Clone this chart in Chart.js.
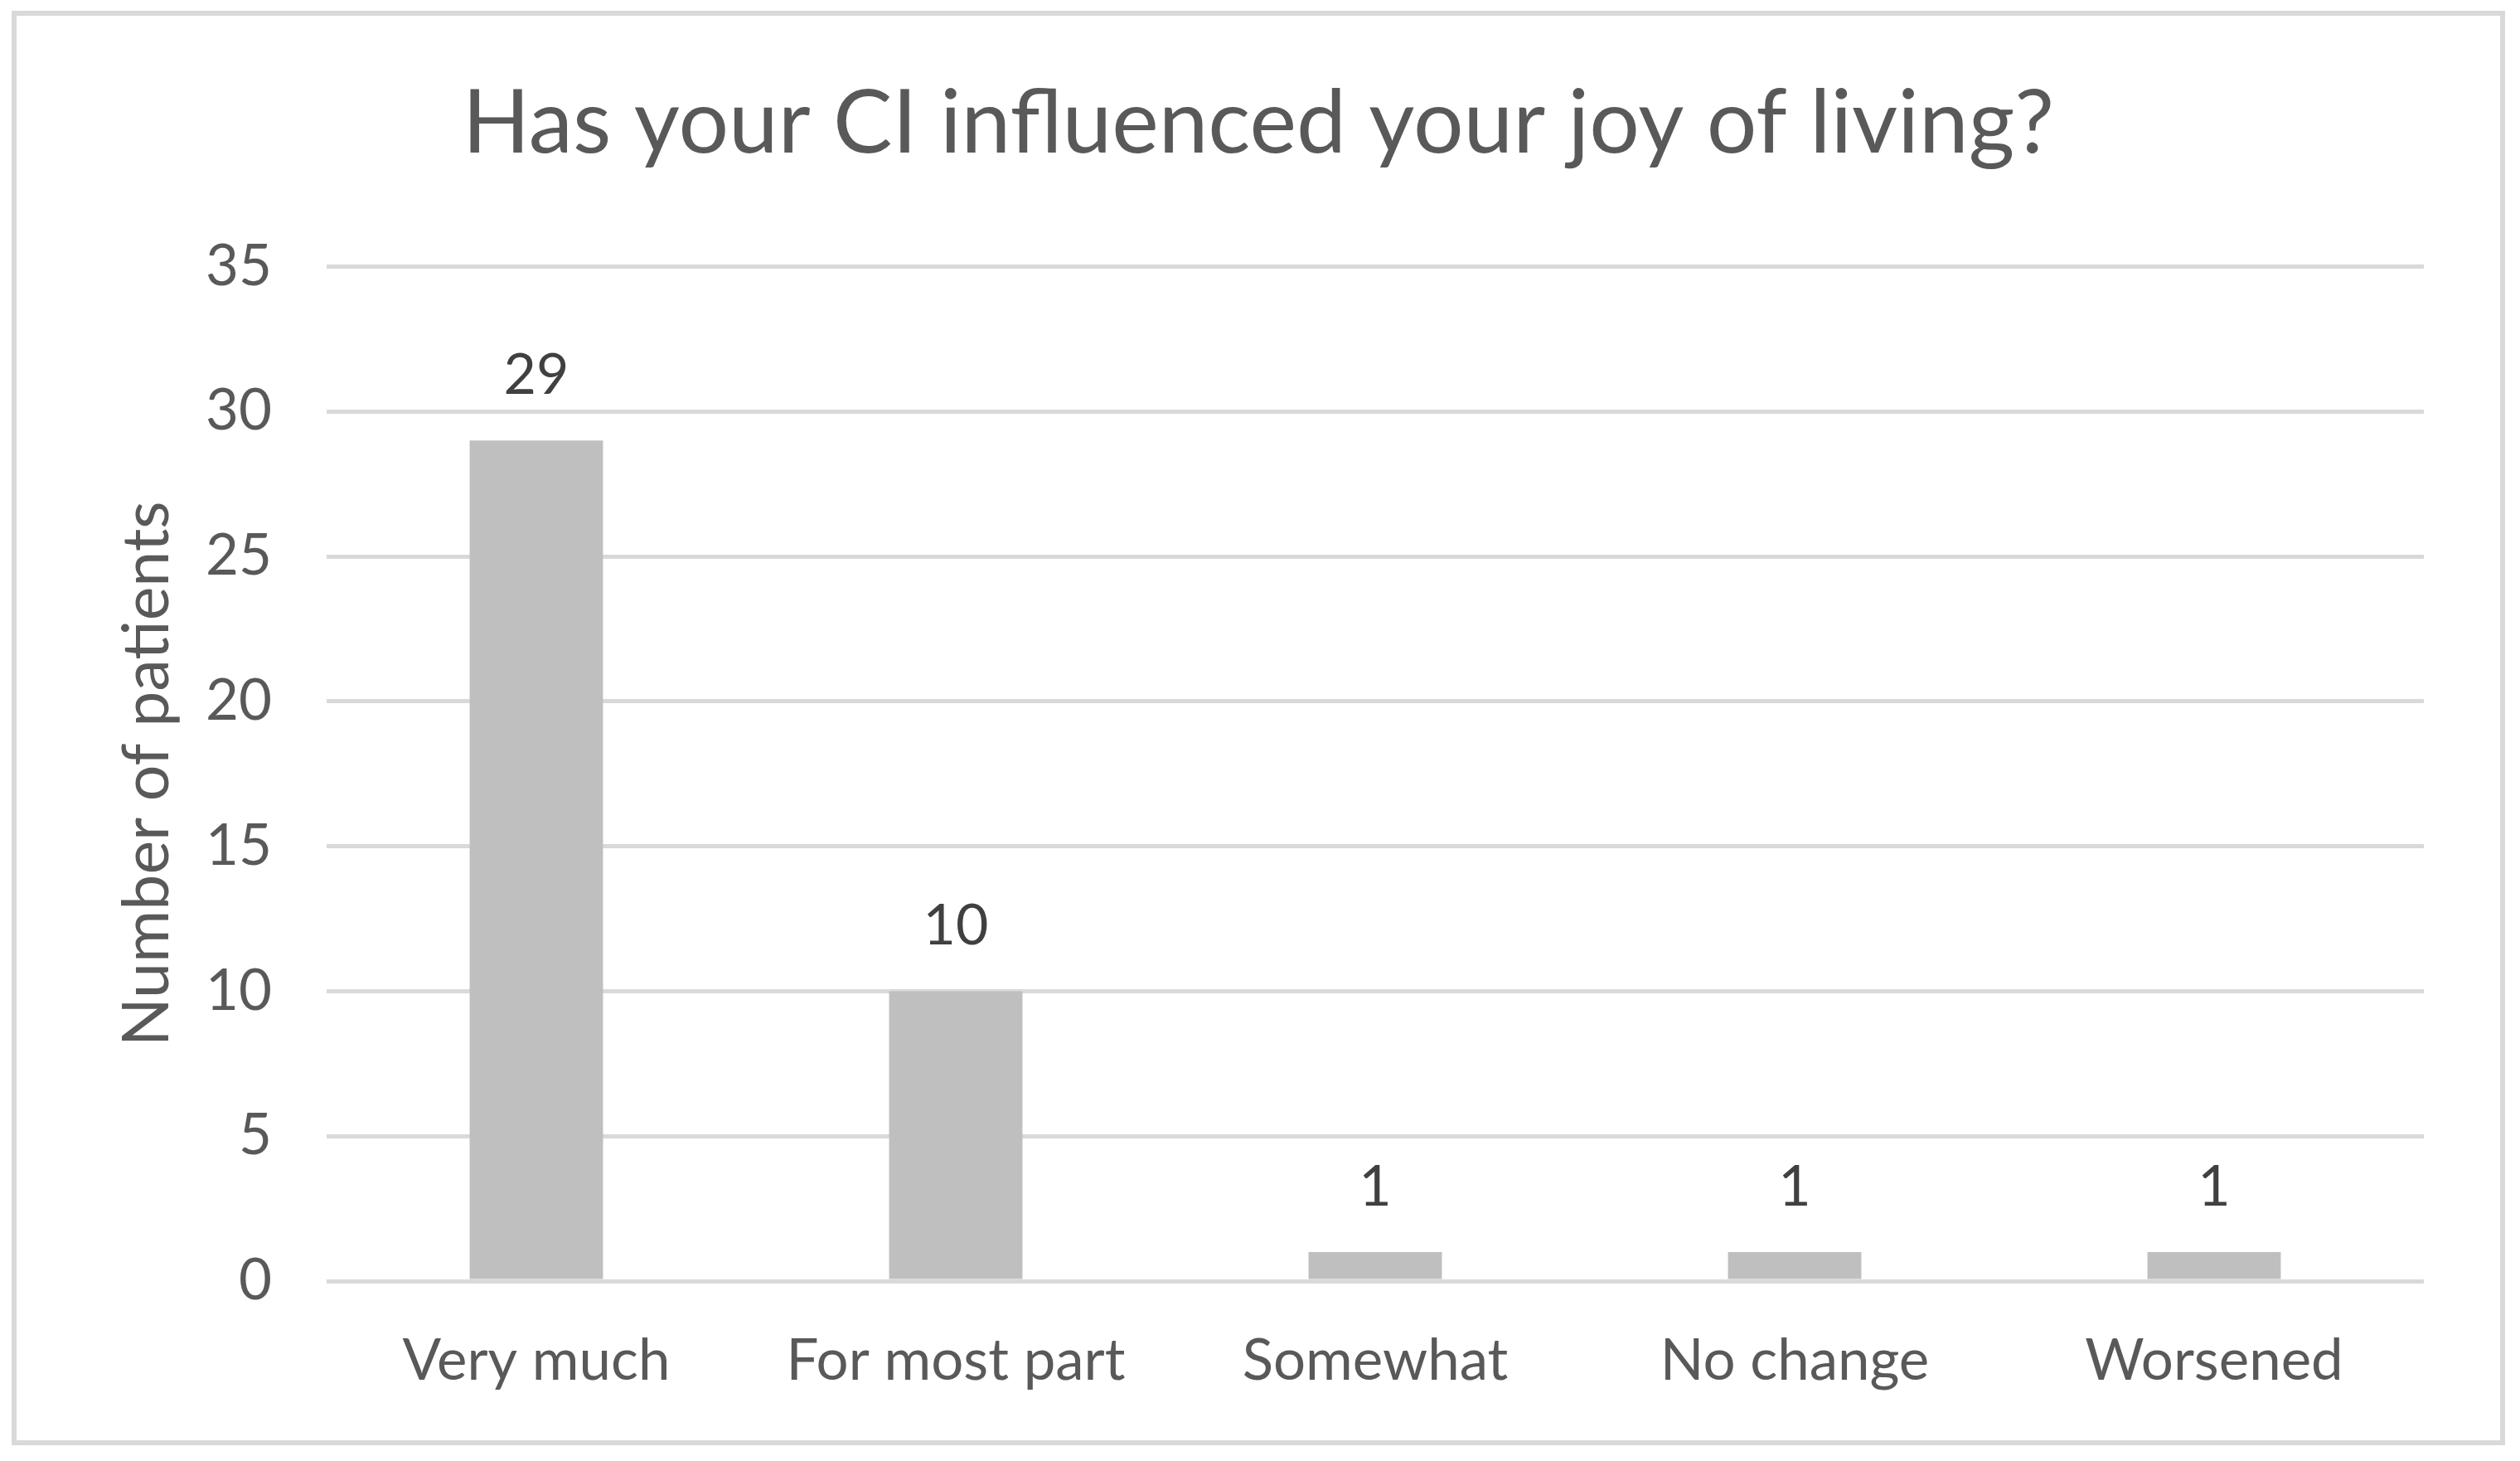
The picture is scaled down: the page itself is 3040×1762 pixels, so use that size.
<!DOCTYPE html>
<html>
<head>
<meta charset="utf-8">
<script src="https://cdn.jsdelivr.net/npm/chart.js@4.4.1/dist/chart.umd.min.js"></script>
<style>
html,body{margin:0;padding:0;background:#ffffff;}
#wrap{width:3040px;height:1762px;position:relative;}
</style>
</head>
<body>
<div id="wrap"><canvas id="c" width="3040" height="1762"></canvas></div>
<script>
const categories = ['Very much', 'For most part', 'Somewhat', 'No change', 'Worsened'];
const patients = [29, 10, 1, 1, 1];
const yTicks = [0, 5, 10, 15, 20, 25, 30, 35];
const chartTitle = 'Has your CI influenced your joy of living?';
const yAxisTitle = 'Number of patients';

const FONT = 'Lato';

const framePlugin = {
  id: 'frame',
  beforeDraw(chart) {
    const ctx = chart.ctx;
    ctx.save();
    ctx.fillStyle = '#ffffff';
    ctx.fillRect(0, 0, chart.width, chart.height);
    ctx.strokeStyle = '#d9d9d9';
    ctx.lineWidth = 6;
    ctx.strokeRect(17, 16, chart.width - 21 - 17, chart.height - 22 - 16);
    ctx.restore();
  }
};

const valueLabels = {
  id: 'valueLabels',
  afterDatasetsDraw(chart) {
    const ctx = chart.ctx;
    const meta = chart.getDatasetMeta(0);
    ctx.save();
    ctx.font = '68px ' + FONT;
    ctx.fillStyle = '#404040';
    ctx.textAlign = 'center';
    ctx.textBaseline = 'alphabetic';
    meta.data.forEach((bar, i) => {
      ctx.fillText(String(patients[i]), bar.x, bar.y - 56);
    });
    ctx.restore();
  }
};

new Chart(document.getElementById('c'), {
  type: 'bar',
  data: {
    labels: categories,
    datasets: [{
      data: patients,
      backgroundColor: '#bfbfbf',
      borderWidth: 0,
      barPercentage: 0.318,
      categoryPercentage: 1.0
    }]
  },
  options: {
    responsive: false,
    devicePixelRatio: 1,
    animation: false,
    layout: { padding: { left: 112, right: 116, top: 0, bottom: 0 } },
    plugins: {
      legend: { display: false },
      tooltip: { enabled: false },
      title: {
        display: true,
        text: chartTitle,
        color: '#595959',
        font: { family: FONT, size: 107, weight: 'normal' },
        padding: { top: 85, bottom: 108 }
      }
    },
    scales: {
      x: {
        grid: { display: false, drawTicks: false },
        border: { display: false },
        ticks: {
          color: '#595959',
          font: { family: FONT, size: 69 },
          padding: 55,
          maxRotation: 0,
          autoSkip: false
        },
        afterFit(scale) { scale.height = 217; }
      },
      y: {
        min: 0,
        max: 35,
        grid: { color: '#d9d9d9', lineWidth: 5, drawTicks: false },
        border: { display: false },
        ticks: {
          color: '#595959',
          font: { family: FONT, size: 69 },
          padding: 66,
          stepSize: 5
        },
        afterBuildTicks(scale) { scale.ticks = yTicks.map(v => ({ value: v })); },
        title: {
          display: true,
          text: yAxisTitle,
          color: '#595959',
          font: { family: FONT, size: 77, weight: 'normal' },
          padding: { top: 20, bottom: 0 }
        },
        afterFit(scale) { scale.width = 282; }
      }
    }
  },
  plugins: [framePlugin, valueLabels]
});
</script>
</body>
</html>
